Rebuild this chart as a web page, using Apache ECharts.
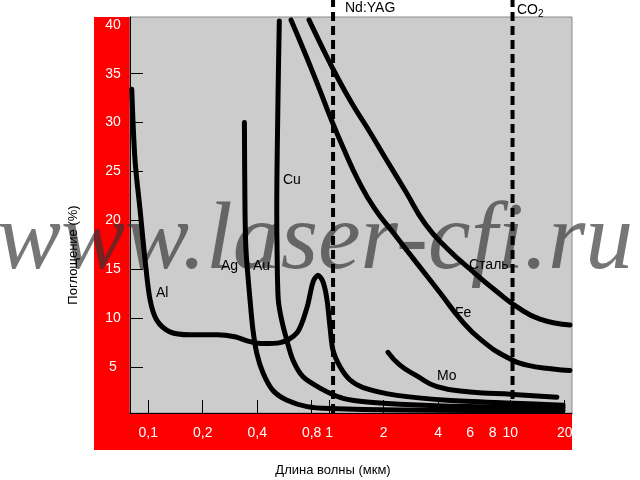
<!DOCTYPE html>
<html><head><meta charset="utf-8">
<script src="https://cdn.jsdelivr.net/npm/echarts@6/dist/echarts.min.js"></script>
<style>html,body{margin:0;padding:0;background:#fff}#c{width:640px;height:480px}</style>
</head><body><div id="c"></div>
<script>
// ---- data ----
const xTickValues = [0.1, 0.2, 0.4, 0.8, 1, 2, 4, 6, 8, 10, 20];
const xTickLabels = ['0,1', '0,2', '0,4', '0,8', '1', '2', '4', '6', '8', '10', '20'];
const yLabelValues = [5, 10, 15, 20, 25, 30, 35, 40];
const yTickValues = [5, 10, 15, 20, 25, 30, 35];

const alData = [[0.0811,33.4],[0.0845,26.2],[0.0901,21.1],[0.096,16.0],[0.1023,11.9],[0.1114,9.8],[0.1319,8.6],[0.170,8.3],[0.240,8.3],[0.300,8.1],[0.365,7.6],[0.431,7.4],[0.535,7.5],[0.664,8.5],[0.754,11.1],[0.814,13.7],[0.867,14.4],[0.924,13.7],[0.972,11.9],[1.01,9.1],[1.05,6.7],[1.15,5.0],[1.30,3.7],[1.54,2.9],[2.37,2.1],[4.48,1.6],[10.4,1.3],[19.6,1.1]];
const agData = [[0.340,30.0],[0.3425,21.1],[0.347,16.9],[0.365,11.9],[0.379,8.8],[0.398,6.4],[0.431,4.4],[0.489,2.6],[0.585,1.6],[0.754,0.95],[1.01,0.75],[2.5,0.6],[19.6,0.55]];
const auData = [[0.530,40.4],[0.521,32.3],[0.513,21.0],[0.515,16.9],[0.523,11.9],[0.546,9.8],[0.582,7.8],[0.631,5.7],[0.717,4.0],[0.890,2.85],[1.147,1.9],[1.48,1.5],[2.46,1.2],[4.65,1.0],[10.4,0.9],[19.6,0.85]];
const feData = [[0.6151,40.5],[0.735,37.1],[0.871,33.7],[1.032,30.2],[1.223,27.0],[1.442,24.15],[1.768,21.3],[2.310,18.5],[3.056,15.6],[4.095,12.6],[5.416,9.7],[6.986,7.7],[9.601,6.0],[12.38,5.2],[17.24,4.8],[21.4,4.65]];
const steelData = [[0.7732,40.5],[0.909,37.8],[1.076,35.1],[1.331,32.0],[1.644,29.3],[2.070,26.2],[2.636,23.0],[3.401,19.6],[4.498,17.1],[6.183,14.8],[8.455,12.7],[10.9,11.15],[14.6,9.9],[21.4,9.3]];
const moData = [[2.113,6.5],[2.46,5.2],[3.05,4.1],[3.94,3.0],[6.0,2.45],[10.4,2.2],[18.1,1.9]];

const laserWavelengths = [1.05, 10.3];
const laserSpan = [0.3, 42.6];

// ---- chart ----
const chart = echarts.init(document.getElementById('c'), null, {renderer: 'canvas'});
const curve = (name, data, smooth) => ({
  type: 'line', name, data, symbol: 'none', showSymbol: false, smooth: smooth || 0.3,
  lineStyle: {color: '#000', width: 5, cap: 'round', join: 'round'},
  z: 4, silent: true, animation: false
});
const vline = (x) => ({
  type: 'line', data: laserSpan.map(v => [x, v]), symbol: 'none', clip: false,
  lineStyle: {color: '#000', width: 4, type: [9, 5], cap: 'butt'},
  z: 3, silent: true, animation: false
});
const lbl = (text, x, y) => ({
  type: 'text', x, y, z: 10,
  style: {text, fill: '#000', fontSize: 14, fontFamily: 'Liberation Sans, Arial, sans-serif'}
});

function fmtX(v) {
  for (let i = 0; i < xTickValues.length; i++) {
    if (Math.abs(Math.log10(v) - Math.log10(xTickValues[i])) < 0.005) return xTickLabels[i];
  }
  return '';
}

chart.setOption({
  animation: false,
  grid: {left: 130, right: 68, top: 17, bottom: 67, show: true, backgroundColor: '#cccccc', borderColor: '#8a8a8a', borderWidth: 1},
  xAxis: {
    type: 'log', logBase: 10, min: 0.0793, max: 21.95,
    axisLine: {show: true, lineStyle: {color: '#000', width: 1}},
    axisTick: {show: true, inside: true, length: 13, customValues: xTickValues, lineStyle: {color: '#000', width: 1}},
    axisLabel: {show: true, customValues: xTickValues, formatter: fmtX, color: '#fff', fontSize: 14, margin: 13, fontFamily: 'Liberation Sans, Arial, sans-serif'},
    splitLine: {show: false}, minorTick: {show: false}, minorSplitLine: {show: false}
  },
  yAxis: {
    type: 'value', min: 0.3, max: 40.8,
    axisLine: {show: true, lineStyle: {color: '#000', width: 1}},
    axisTick: {show: true, inside: true, length: 13, customValues: yTickValues, lineStyle: {color: '#000', width: 1}},
    axisLabel: {show: true, customValues: yLabelValues, color: '#fff', fontSize: 14, margin: 17, align: 'center', fontFamily: 'Liberation Sans, Arial, sans-serif'},
    splitLine: {show: false}
  },
  graphic: [
    {type: 'rect', z: -10, shape: {x: 94, y: 17, width: 36, height: 433}, style: {fill: '#ff0000'}},
    {type: 'rect', z: -10, shape: {x: 94, y: 413, width: 478, height: 37}, style: {fill: '#ff0000'}},
    {type: 'text', z: 1, x: -3, y: 243, style: {text: 'www.laser-cfi.ru', fill: 'rgba(51,51,51,0.67)', fontSize: 96, fontStyle: 'italic', fontFamily: 'Liberation Serif, serif', verticalAlign: 'middle'}},
    {type: 'text', z: 10, x: 73, y: 255, rotation: Math.PI / 2, style: {text: 'Поглощение (%)', fill: '#000', fontSize: 13, fontFamily: 'Liberation Sans, Arial, sans-serif', align: 'center', verticalAlign: 'middle'}},
    {type: 'text', z: 10, x: 333, y: 470, style: {text: 'Длина волны (мкм)', fill: '#000', fontSize: 13, fontFamily: 'Liberation Sans, Arial, sans-serif', align: 'center', verticalAlign: 'middle'}},
    lbl('Al', 156, 286),
    lbl('Ag', 221, 259),
    lbl('Au', 253, 259),
    lbl('Cu', 283, 173),
    lbl('Сталь', 469, 258),
    lbl('Fe', 455, 306),
    lbl('Mo', 437, 369),
    lbl('Nd:YAG', 345, 1),
    {type: 'text', z: 10, x: 517, y: 1, style: {text: '{a|CO}{b|2}', fill: '#000', fontFamily: 'Liberation Sans, Arial, sans-serif', rich: {a: {fontSize: 14, fill: '#000'}, b: {fontSize: 10, fill: '#000', padding: [8, 0, 0, 0]}}}}
  ],
  series: [
    vline(laserWavelengths[0]),
    vline(laserWavelengths[1]),
    curve('Al', alData),
    curve('Ag', agData),
    curve('Au', auData),
    curve('Fe', feData, 0.5),
    curve('Сталь', steelData, 0.5),
    curve('Mo', moData, 0.5)
  ]
});
</script></body></html>
